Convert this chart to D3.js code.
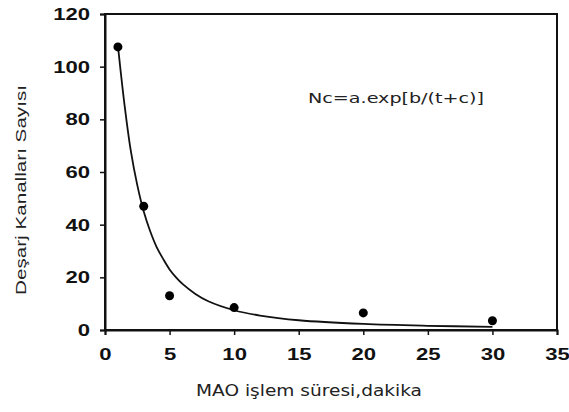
<!DOCTYPE html>
<html>
<head>
<meta charset="utf-8">
<script src="https://cdn.jsdelivr.net/npm/d3@7"></script>
<style>
body{margin:0;background:#fff;}
</style>
</head>
<body>
<div class="graph"></div>
<script>
// measured points
var sureler=[1,3,5,10,20,30];
var kanalSayisi=[107.5,47,13,8.5,6.5,3.5];

// fitted curve
var egriT=[1,1.5,2,2.5,3,3.5,4,4.5,5,5.5,6,7,8,10,12,15,20,25,30];
var egriN=[108,86,68,55,45,37.5,31.5,27,23,20,17.5,13.7,10.9,7.5,5.5,3.7,2.3,1.6,1.2];

var xTicks=[0,5,10,15,20,25,30,35];
var yTicks=[0,20,40,60,80,100,120];

const width=569;
const height=412;

var margin={top:14,right:12,bottom:82,left:105};

var svg=d3.select(".graph")
    .append("svg")
    .attr("width",width)
    .attr("height",height);

var scaleX=d3.scaleLinear()
    .domain([0,35])
    .range([margin.left,width-margin.right]);

var scaleY=d3.scaleLinear()
    .domain([0,120])
    .range([height-margin.bottom,margin.top]);

// frame
svg.append("rect")
    .attr("x",scaleX(0))
    .attr("y",scaleY(120))
    .attr("width",scaleX(35)-scaleX(0))
    .attr("height",scaleY(0)-scaleY(120))
    .attr("fill","none")
    .attr("stroke","#111")
    .attr("stroke-width",2);

// axes
var xAxis=d3.axisBottom(scaleX).tickValues(xTicks).tickSize(5).tickPadding(8);
var gx=svg.append("g")
    .attr("transform","translate(0,"+scaleY(0)+")")
    .call(xAxis);

var yAxis=d3.axisLeft(scaleY).tickValues(yTicks).tickSize(5).tickPadding(0);
var gy=svg.append("g")
    .attr("transform","translate("+scaleX(0)+",0)")
    .call(yAxis);

[gx,gy].forEach(function(g){
    g.select(".domain").attr("stroke","#111").attr("stroke-width",2);
    g.selectAll(".tick line").attr("stroke","#111").attr("stroke-width",1.5);
    g.selectAll(".tick text")
        .attr("fill","#111")
        .style("font-family","'Liberation Sans',Arial,sans-serif")
        .style("font-weight","bold")
        .style("font-size","17px");
});

gx.selectAll(".tick text").attr("transform","scale(1.3,1)").attr("dy","1em");
gy.selectAll(".tick text").attr("x",-15/1.3).attr("transform","scale(1.3,1)");

// curve
var egri=egriT.map(function(t,i){return [t,egriN[i]];});
var line=d3.line()
    .x(function(d){return scaleX(d[0]);})
    .y(function(d){return scaleY(d[1]);})
    .curve(d3.curveCatmullRom);

svg.append("path")
    .datum(egri)
    .attr("d",line)
    .attr("fill","none")
    .attr("stroke","#111")
    .attr("stroke-width",1.8);

// points
svg.selectAll("circle")
    .data(sureler)
    .enter()
    .append("circle")
    .attr("cx",function(d){return scaleX(d);})
    .attr("cy",function(d,i){return scaleY(kanalSayisi[i]);})
    .attr("r",4.5)
    .attr("fill","#000");

// labels
svg.append("text")
    .attr("x",308)
    .attr("y",103)
    .attr("textLength",176)
    .attr("lengthAdjust","spacingAndGlyphs")
    .style("font-family","'DejaVu Sans',Verdana,sans-serif")
    .style("font-size","13.5px")
    .attr("fill","#222")
    .text("Nc=a.exp[b/(t+c)]");

svg.append("text")
    .attr("x",196)
    .attr("y",396)
    .attr("textLength",226)
    .attr("lengthAdjust","spacingAndGlyphs")
    .style("font-family","'DejaVu Sans',Verdana,sans-serif")
    .style("font-size","15px")
    .attr("fill","#222")
    .text("MAO işlem süresi,dakika");

svg.append("text")
    .attr("transform","translate(26,295) rotate(-90)")
    .attr("x",0)
    .attr("y",0)
    .attr("textLength",210)
    .attr("lengthAdjust","spacingAndGlyphs")
    .style("font-family","'Liberation Sans',Arial,sans-serif")
    .style("font-size","15px")
    .attr("fill","#222")
    .text("Deşarj Kanalları Sayısı");
</script>
</body>
</html>
